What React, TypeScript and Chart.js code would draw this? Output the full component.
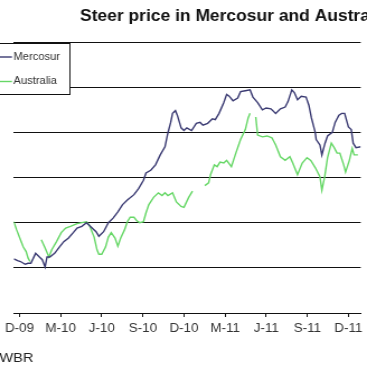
import React, { useEffect, useRef } from "react";
import { Chart, registerables } from "chart.js";

Chart.register(...registerables);

const titleText = "Steer price in Mercosur and Australia";
const sourceText = "WBR";

// x axis: weeks since 1 Dec 2009
const tickWeeks = [0, 13, 26, 39, 52, 65, 78, 91, 104];
const tickLabels = ["D-09", "M-10", "J-10", "S-10", "D-10", "M-11", "J-11", "S-11", "D-11"];

const seriesNames = ["Mercosur", "Australia"];
const seriesColors = ["#3a3a72", "#66d766"];

const mercosurWeeks = [
  -1.8, -0.6, 0.3, 1.8, 2.7, 3.6, 5.1, 6.3, 7.2, 8.1,
  8.7, 9.6, 11.1, 12.6, 14.0, 15.5, 17.0, 18.2, 19.7, 21.2,
  22.7, 24.2, 25.1, 26.6, 28.1, 29.6, 31.1, 32.6, 34.1, 36.2,
  37.7, 39.2, 40.0, 41.5, 43.0, 44.5, 46.0, 46.9, 47.8, 48.4,
  49.3, 49.9, 51.1, 52.0, 52.9, 54.4, 55.9, 57.1, 58.0, 59.5,
  61.0, 61.9, 63.1, 64.6, 65.5, 66.3, 67.5, 69.0, 69.9, 71.4,
  72.9, 73.8, 75.3, 76.8, 78.0, 79.5, 81.0, 82.5, 84.0, 84.9,
  86.1, 86.9, 87.9, 89.1, 90.6, 91.5, 92.3, 93.5, 93.8, 95.0,
  95.6, 96.6, 97.4, 98.9, 99.8, 101.0, 101.9, 102.8, 104.0, 104.9,
  105.5, 106.4, 107.9,
];
const mercosurPrice = [
  210, 208, 207, 204, 205, 205, 216, 212, 209, 201,
  212, 212, 216, 223, 229, 233, 239, 244, 246, 250,
  245, 240, 235, 240, 250, 255, 262, 270, 275, 281,
  288, 297, 305, 308, 314, 325, 334, 349, 361, 371,
  374, 369, 355, 352, 355, 352, 360, 361, 358, 360,
  365, 364, 371, 383, 392, 390, 385, 388, 395, 396,
  397, 389, 383, 375, 377, 376, 371, 376, 378, 384,
  397, 394, 386, 390, 389, 380, 366, 350, 342, 336,
  325, 338, 346, 350, 361, 369, 371, 371, 356, 353,
  338, 333, 334,
];

const australiaWeeks = [
  -1.8, -0.9, 0.3, 1.2, 2.1, 2.7, 3.3,
  5.0,
  6.9, 8.1, 9.3, 10.2, 11.7, 13.2, 14.6, 16.1, 18.2, 19.7,
  21.2, 22.1, 23.6, 24.5, 25.1, 26.0, 27.2, 28.1, 29.0, 30.2,
  31.1, 32.0, 33.2, 34.1, 35.0, 36.2, 37.1, 38.0, 39.2, 40.0,
  40.9, 42.4, 43.9, 45.1, 46.0, 46.9, 48.4, 49.6, 51.1, 52.0,
  53.5, 54.7,
  56.5,
  58.6, 59.8, 60.4, 61.6, 62.5, 63.4, 64.6, 65.5, 67.0, 68.4,
  69.9, 71.4, 72.3, 72.9,
  73.8,
  74.7, 75.3, 76.8, 78.3, 79.8, 81.0, 82.5, 84.0, 85.5, 86.4,
  87.9, 89.4, 90.9, 92.1, 93.5, 95.0, 95.6, 96.5, 97.4, 98.6,
  99.5, 100.4, 101.3, 102.5, 103.1, 104.3, 105.2, 105.8, 107.0,
];
const australiaPrice = [
  251, 242, 231, 223, 218, 211, 207,
  null,
  231, 222, 212, 220, 229, 239, 244, 246, 249, 250,
  251, 247, 234, 220, 215, 215, 223, 234, 239, 233,
  224, 233, 242, 251, 256, 256, 252, 250, 251, 261,
  270, 278, 283, 280, 283, 280, 283, 273, 268, 267,
  278, 285,
  null,
  291, 294, 303, 314, 312, 317, 316, 319, 312, 327,
  342, 353, 366, 371,
  null,
  367, 347, 345, 346, 344, 336, 323, 319, 323, 316,
  303, 316, 322, 319, 311, 301, 286, 301, 322, 338,
  333, 327, 327, 314, 306, 319, 332, 325, 325,
];

const yMin = 150;
const yMax = 450;
const yStep = 50;
const xMin = -1.8;
const xMax = 107.9;

const W = 328;
const H = 367;
const SX = 367 / W;
const FONT = "Arial, 'Liberation Sans', sans-serif";

const overlayPlugin = {
  id: "overlay",
  afterDraw(chart: any) {
    const ctx = chart.ctx as CanvasRenderingContext2D;
    ctx.save();
    ctx.textAlign = "left";
    ctx.textBaseline = "alphabetic";
    ctx.fillStyle = "#111";
    ctx.font = `bold 15.6px ${FONT}`;
    ctx.fillText(titleText, 71.5, 20.8);
    ctx.font = `13px ${FONT}`;
    ctx.fillStyle = "#222";
    ctx.fillText(sourceText, -0.5, 362);

    // legend box
    ctx.fillStyle = "#fff";
    ctx.fillRect(-1, 43.5, 63.5, 51);
    ctx.strokeStyle = "#111";
    ctx.lineWidth = 1;
    ctx.strokeRect(-1, 43.5, 63.5, 51);
    chart.data.datasets.forEach((ds: any, i: number) => {
      const y = 57 + i * 24.5;
      ctx.strokeStyle = ds.borderColor;
      ctx.lineWidth = 1.4;
      ctx.beginPath();
      ctx.moveTo(0, y);
      ctx.lineTo(10.7, y);
      ctx.stroke();
      ctx.fillStyle = "#333";
      ctx.font = `10px ${FONT}`;
      ctx.textBaseline = "middle";
      ctx.fillText(ds.label, 12, y);
    });
    ctx.restore();
  },
};

export default function App() {
  const ref = useRef<HTMLCanvasElement>(null);
  useEffect(() => {
    document.body.style.margin = "0";
    const canvas = ref.current!;
    const chart = new Chart(canvas, {
      type: "line",
      data: {
        datasets: [
          {
            label: seriesNames[0],
            data: mercosurWeeks.map((x, i) => ({ x, y: mercosurPrice[i] })),
            borderColor: seriesColors[0],
            borderWidth: 1.4,
            pointRadius: 0,
            tension: 0,
            spanGaps: false,
          },
          {
            label: seriesNames[1],
            data: australiaWeeks.map((x, i) => ({ x, y: australiaPrice[i] })),
            borderColor: seriesColors[1],
            borderWidth: 1.4,
            pointRadius: 0,
            tension: 0,
            spanGaps: false,
          },
        ],
      },
      options: {
        responsive: false,
        animation: false,
        devicePixelRatio: 1,
        layout: { autoPadding: false, padding: { top: 42, left: 0, right: 0, bottom: 0 } },
        plugins: {
          legend: { display: false },
          title: { display: false },
          tooltip: { enabled: false },
        },
        scales: {
          x: {
            type: "linear",
            min: xMin,
            max: xMax,
            afterBuildTicks: (s: any) => {
              s.ticks = tickWeeks.map((v) => ({ value: v }));
            },
            afterFit: (s: any) => {
              s.height = H - 313;
            },
            ticks: {
              autoSkip: false,
              maxRotation: 0,
              minRotation: 0,
              padding: 4.5,
              color: "#333",
              font: { family: FONT, size: 12 },
              callback: (v: any) => tickLabels[tickWeeks.indexOf(Number(v))],
            },
            grid: { drawOnChartArea: false, drawTicks: true, tickLength: 4, color: "#111" },
            border: { display: true, color: "#111", width: 1 },
          },
          y: {
            type: "linear",
            min: yMin,
            max: yMax,
            ticks: { stepSize: yStep, display: false },
            afterFit: (s: any) => {
              s.width = 0;
            },
            grid: { color: "#111", lineWidth: 1, drawTicks: false },
            border: { display: false },
          },
        },
      } as any,
      plugins: [overlayPlugin],
    });
    return () => chart.destroy();
  }, []);

  return (
    <div
      style={{
        position: "fixed",
        left: 0,
        top: 0,
        width: 367,
        height: 367,
        overflow: "hidden",
        background: "#fff",
      }}
    >
      <div style={{ width: W, height: H, transform: `scaleX(${SX})`, transformOrigin: "0 0" }}>
        <canvas ref={ref} width={W} height={H} style={{ width: W, height: H, display: "block" }} />
      </div>
    </div>
  );
}
